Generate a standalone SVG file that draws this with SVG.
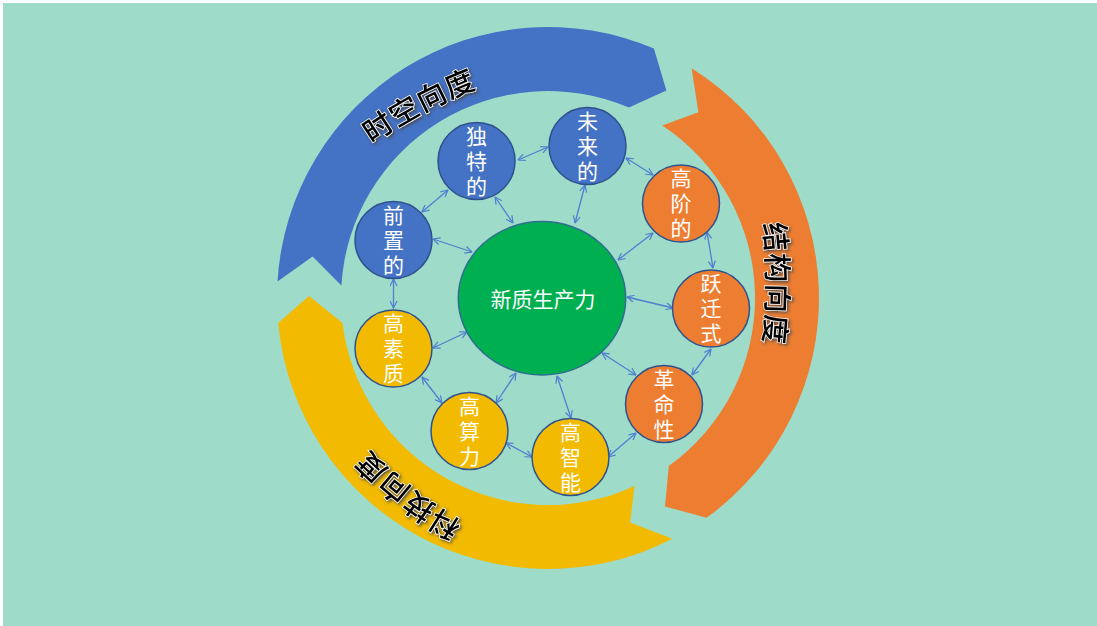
<svg xmlns="http://www.w3.org/2000/svg" width="1097" height="626" viewBox="0 0 1097 626">
  <style>
    .node circle { stroke: #2F528F; stroke-width: 1.5; }
    .blue { fill: #4472C4; }
    .orange { fill: #ED7D31; }
    .gold { fill: #F2BA00; }
    .ntext { font-family: "Noto Sans CJK SC", "Noto Sans", sans-serif; font-size: 21px; fill: #FFFFFF; text-anchor: middle; writing-mode: vertical-rl; letter-spacing: 4px; }
    .ctext { font-family: "Noto Sans CJK SC", "Noto Sans", sans-serif; font-size: 21px; fill: #FFFFFF; text-anchor: middle; dominant-baseline: central; }
    .arclabel { font-family: "Noto Sans CJK SC", "Noto Sans", sans-serif; font-size: 29px; font-weight: 500; fill: #000000; stroke: #FFFFFF; stroke-width: 1.5; paint-order: stroke; letter-spacing: 2px; dominant-baseline: central; filter: url(#glow); }
    .conn line { stroke: #4F7FD0; stroke-width: 1.3; fill: none; marker-start: url(#arr); marker-end: url(#arr); }
  </style>
  <defs>
    <filter id="glow" x="-20%" y="-20%" width="140%" height="140%">
      <feDropShadow dx="1.5" dy="1.5" stdDeviation="1.5" flood-color="#4A4A4A" flood-opacity="0.9"/>
    </filter>
    <marker id="arr" viewBox="0 0 8 8" refX="7.5" refY="4" markerWidth="8" markerHeight="8" markerUnits="userSpaceOnUse" orient="auto-start-reverse">
      <path d="M0.5,0.5 L7.5,4 L0.5,7.5" fill="none" stroke="#4F7FD0" stroke-width="1.2"/>
    </marker>
    <path id="pBlue" d="M311.1,176.8 A500,500 0 0 1 539.6,55.3"/>
    <path id="pOrange" d="M772.4,197.2 A500,500 0 0 1 772.4,370.8"/>
    <path id="pGold" d="M516.6,565.4 A500,500 0 0 1 312.7,406"/>
  </defs>

  <rect x="0" y="0" width="1097" height="626" fill="#FFFFFF"/>
  <rect x="3" y="3" width="1094" height="623" fill="#9EDBC9"/>

  <g id="ring">
    <g id="arc-blue">
      <path class="blue" d="M277.5,281.5 A271,271 0 0 1 653.9,48.5 L666.4,90.4 L628.9,107.5 A207,207 0 0 0 341.4,285.4 L312.6,256.5 Z"/>
      <text class="arclabel"><textPath href="#pBlue" startOffset="50%" text-anchor="middle">时空向度</textPath></text>
    </g>
    <g id="arc-orange">
      <path class="orange" d="M691.6,68.2 A271,271 0 0 1 706.5,517.8 L665,506.4 L668.8,466.1 A207,207 0 0 0 662.3,125.4 L698.4,112.3 Z"/>
      <text class="arclabel"><textPath href="#pOrange" startOffset="50%" text-anchor="middle">结构向度</textPath></text>
    </g>
    <g id="arc-gold">
      <path class="gold" d="M672.3,538.8 A271,271 0 0 1 278.2,323 L309,295.9 L342.5,322.9 A207,207 0 0 0 634.5,486.1 L630.1,522.4 Z"/>
      <text class="arclabel"><textPath href="#pGold" startOffset="50%" text-anchor="middle">科技向度</textPath></text>
    </g>
  </g>

  <g id="connectors" class="conn">
    <line x1="422" y1="212" x2="448" y2="190"/>
    <line x1="518" y1="160" x2="548" y2="147"/>
    <line x1="626" y1="158" x2="653" y2="175"/>
    <line x1="707" y1="232" x2="713" y2="268"/>
    <line x1="711" y1="349" x2="692" y2="375"/>
    <line x1="636" y1="433" x2="608" y2="457"/>
    <line x1="532" y1="457" x2="506" y2="443"/>
    <line x1="442" y1="403" x2="422" y2="377"/>
    <line x1="393.5" y1="308" x2="393.5" y2="279"/>
    <line x1="472" y1="252" x2="433" y2="239"/>
    <line x1="513" y1="223" x2="495" y2="197"/>
    <line x1="575" y1="223" x2="585" y2="185"/>
    <line x1="618" y1="260" x2="653" y2="233"/>
    <line x1="627" y1="297" x2="673" y2="308"/>
    <line x1="602" y1="353" x2="636" y2="375"/>
    <line x1="557" y1="376" x2="571" y2="418"/>
    <line x1="516" y1="373" x2="496" y2="403"/>
    <line x1="467" y1="332" x2="433" y2="348"/>
  </g>

  <g id="center" class="node">
    <ellipse cx="542" cy="298.3" rx="83.7" ry="76.7" fill="#00B050" stroke="#2F6E8F" stroke-width="1.5"/>
    <text class="ctext" x="543" y="298">新质生产力</text>
  </g>

  <g id="n-qianzhi" class="node">
    <circle class="blue" cx="393.5" cy="240" r="38.5"/>
    <text class="ntext" x="393.5" y="242">前置的</text>
  </g>
  <g id="n-dute" class="node">
    <circle class="blue" cx="476.5" cy="161" r="38.5"/>
    <text class="ntext" x="476.5" y="163">独特的</text>
  </g>
  <g id="n-weilai" class="node">
    <circle class="blue" cx="587.5" cy="146" r="38.5"/>
    <text class="ntext" x="587.5" y="148">未来的</text>
  </g>
  <g id="n-gaojie" class="node">
    <circle class="orange" cx="681" cy="203.5" r="38.5"/>
    <text class="ntext" x="681" y="205.5">高阶的</text>
  </g>
  <g id="n-yueqian" class="node">
    <circle class="orange" cx="711" cy="308.5" r="38.5"/>
    <text class="ntext" x="711" y="310.5">跃迁式</text>
  </g>
  <g id="n-geming" class="node">
    <circle class="orange" cx="664" cy="404" r="38.5"/>
    <text class="ntext" x="664" y="406">革命性</text>
  </g>
  <g id="n-gaosuzhi" class="node">
    <circle class="gold" cx="393.5" cy="348.5" r="38.5"/>
    <text class="ntext" x="393.5" y="350.5">高素质</text>
  </g>
  <g id="n-gaosuanli" class="node">
    <circle class="gold" cx="469.5" cy="431" r="38.5"/>
    <text class="ntext" x="469.5" y="433">高算力</text>
  </g>
  <g id="n-gaozhineng" class="node">
    <circle class="gold" cx="570.5" cy="457" r="38.5"/>
    <text class="ntext" x="570.5" y="459">高智能</text>
  </g>
</svg>
